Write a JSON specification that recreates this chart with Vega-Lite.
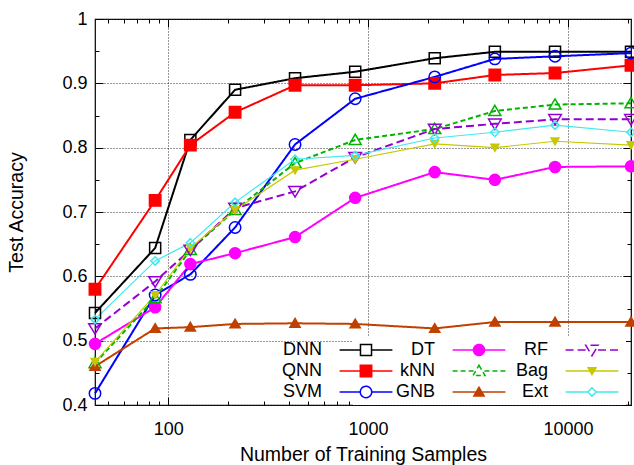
{
  "$schema": "https://vega.github.io/schema/vega-lite/v6.json",
  "width": 536,
  "height": 386,
  "autosize": {"type": "none"},
  "padding": {"left": 95, "top": 19, "right": 3, "bottom": 60},
  "background": "white",
  "config": {
    "view": {"stroke": "black", "strokeWidth": 1.2},
    "axis": {
      "labelFont": "Liberation Sans", "labelFontSize": 18, "labelColor": "black",
      "titleFont": "Liberation Sans", "titleFontSize": 19.5, "titleFontWeight": "normal", "titleColor": "black",
      "tickColor": "black", "tickWidth": 1, "domain": false,
      "gridColor": "#333333", "gridDash": [1, 2], "gridWidth": 1
    },
    "legend": {
      "labelFont": "Liberation Sans", "labelFontSize": 18, "labelColor": "black",
      "labelAlign": "right", "labelOffset": -53, "labelLimit": 200,
      "symbolSize": 144, "symbolStrokeWidth": 1.5, "symbolOpacity": 1,
      "fillColor": "white", "padding": 4, "rowPadding": 3, "columnPadding": -7
    }
  },
  "data": {"values": [
    {"n": 43, "series": "DNN", "acc": 0.543}, {"n": 86, "series": "DNN", "acc": 0.644}, {"n": 129, "series": "DNN", "acc": 0.812}, {"n": 216, "series": "DNN", "acc": 0.890}, {"n": 431, "series": "DNN", "acc": 0.908}, {"n": 862, "series": "DNN", "acc": 0.918}, {"n": 2155, "series": "DNN", "acc": 0.939}, {"n": 4310, "series": "DNN", "acc": 0.949}, {"n": 8620, "series": "DNN", "acc": 0.949}, {"n": 20688, "series": "DNN", "acc": 0.949},
    {"n": 43, "series": "QNN", "acc": 0.580}, {"n": 86, "series": "QNN", "acc": 0.718}, {"n": 129, "series": "QNN", "acc": 0.804}, {"n": 216, "series": "QNN", "acc": 0.855}, {"n": 431, "series": "QNN", "acc": 0.897}, {"n": 862, "series": "QNN", "acc": 0.897}, {"n": 2155, "series": "QNN", "acc": 0.900}, {"n": 4310, "series": "QNN", "acc": 0.913}, {"n": 8620, "series": "QNN", "acc": 0.916}, {"n": 20688, "series": "QNN", "acc": 0.928},
    {"n": 43, "series": "SVM", "acc": 0.418}, {"n": 86, "series": "SVM", "acc": 0.571}, {"n": 129, "series": "SVM", "acc": 0.603}, {"n": 216, "series": "SVM", "acc": 0.676}, {"n": 431, "series": "SVM", "acc": 0.805}, {"n": 862, "series": "SVM", "acc": 0.876}, {"n": 2155, "series": "SVM", "acc": 0.910}, {"n": 4310, "series": "SVM", "acc": 0.938}, {"n": 8620, "series": "SVM", "acc": 0.942}, {"n": 20688, "series": "SVM", "acc": 0.947},
    {"n": 43, "series": "DT", "acc": 0.495}, {"n": 86, "series": "DT", "acc": 0.552}, {"n": 129, "series": "DT", "acc": 0.619}, {"n": 216, "series": "DT", "acc": 0.636}, {"n": 431, "series": "DT", "acc": 0.661}, {"n": 862, "series": "DT", "acc": 0.722}, {"n": 2155, "series": "DT", "acc": 0.762}, {"n": 4310, "series": "DT", "acc": 0.750}, {"n": 8620, "series": "DT", "acc": 0.770}, {"n": 20688, "series": "DT", "acc": 0.771},
    {"n": 43, "series": "kNN", "acc": 0.465}, {"n": 86, "series": "kNN", "acc": 0.566}, {"n": 129, "series": "kNN", "acc": 0.641}, {"n": 216, "series": "kNN", "acc": 0.703}, {"n": 431, "series": "kNN", "acc": 0.776}, {"n": 862, "series": "kNN", "acc": 0.812}, {"n": 2155, "series": "kNN", "acc": 0.829}, {"n": 4310, "series": "kNN", "acc": 0.857}, {"n": 8620, "series": "kNN", "acc": 0.867}, {"n": 20688, "series": "kNN", "acc": 0.869},
    {"n": 43, "series": "GNB", "acc": 0.460}, {"n": 86, "series": "GNB", "acc": 0.519}, {"n": 129, "series": "GNB", "acc": 0.521}, {"n": 216, "series": "GNB", "acc": 0.526}, {"n": 431, "series": "GNB", "acc": 0.527}, {"n": 862, "series": "GNB", "acc": 0.526}, {"n": 2155, "series": "GNB", "acc": 0.519}, {"n": 4310, "series": "GNB", "acc": 0.529}, {"n": 8620, "series": "GNB", "acc": 0.529}, {"n": 20688, "series": "GNB", "acc": 0.529},
    {"n": 43, "series": "RF", "acc": 0.519}, {"n": 86, "series": "RF", "acc": 0.592}, {"n": 129, "series": "RF", "acc": 0.641}, {"n": 216, "series": "RF", "acc": 0.706}, {"n": 431, "series": "RF", "acc": 0.732}, {"n": 862, "series": "RF", "acc": 0.785}, {"n": 2155, "series": "RF", "acc": 0.829}, {"n": 4310, "series": "RF", "acc": 0.837}, {"n": 8620, "series": "RF", "acc": 0.844}, {"n": 20688, "series": "RF", "acc": 0.844},
    {"n": 43, "series": "Bag", "acc": 0.467}, {"n": 86, "series": "Bag", "acc": 0.571}, {"n": 129, "series": "Bag", "acc": 0.644}, {"n": 216, "series": "Bag", "acc": 0.703}, {"n": 431, "series": "Bag", "acc": 0.765}, {"n": 862, "series": "Bag", "acc": 0.782}, {"n": 2155, "series": "Bag", "acc": 0.806}, {"n": 4310, "series": "Bag", "acc": 0.800}, {"n": 8620, "series": "Bag", "acc": 0.810}, {"n": 20688, "series": "Bag", "acc": 0.804},
    {"n": 43, "series": "Ext", "acc": 0.533}, {"n": 86, "series": "Ext", "acc": 0.624}, {"n": 129, "series": "Ext", "acc": 0.652}, {"n": 216, "series": "Ext", "acc": 0.715}, {"n": 431, "series": "Ext", "acc": 0.782}, {"n": 862, "series": "Ext", "acc": 0.788}, {"n": 2155, "series": "Ext", "acc": 0.815}, {"n": 4310, "series": "Ext", "acc": 0.824}, {"n": 8620, "series": "Ext", "acc": 0.835}, {"n": 20688, "series": "Ext", "acc": 0.824}
  ]},
  "resolve": {
    "scale": {"stroke": "independent", "fill": "independent", "shape": "independent", "strokeDash": "independent"},
    "axis": {"x": "independent", "y": "independent"}
  },
  "layer": [
    {
      "transform": [{"filter": "datum.series != 'Bag' && datum.series != 'Ext'"}],
      "mark": {"type": "line", "strokeWidth": 2},
      "encoding": {
        "x": {"field": "n", "type": "quantitative",
          "scale": {"type": "log", "domain": [43, 20688], "nice": false},
          "title": "Number of Training Samples",
          "axis": {"orient": "bottom",
            "values": [50,60,70,80,90,100,200,300,400,500,600,700,800,900,1000,2000,3000,4000,5000,6000,7000,8000,9000,10000,20000],
            "labelExpr": "abs(log(datum.value)/LN10 - round(log(datum.value)/LN10)) < 0.001 ? format(datum.value, 'd') : ''",
            "tickSize": {"condition": {"test": "abs(log(datum.value)/LN10 - round(log(datum.value)/LN10)) < 0.001", "value": -8}, "value": -4},
            "grid": true,
            "gridOpacity": {"condition": {"test": "abs(log(datum.value)/LN10 - round(log(datum.value)/LN10)) < 0.001", "value": 1}, "value": 0},
            "labelOverlap": false, "labelFlush": false, "labelPadding": 23, "titlePadding": 3}},
        "y": {"field": "acc", "type": "quantitative",
          "scale": {"domain": [0.4, 1], "nice": false, "zero": false},
          "title": "Test Accuracy",
          "axis": {"orient": "left",
            "values": [0.4,0.45,0.5,0.55,0.6,0.65,0.7,0.75,0.8,0.85,0.9,0.95,1],
            "labelExpr": "abs(round(datum.value*10) - datum.value*10) < 0.001 ? toString(datum.value) : ''",
            "tickSize": {"condition": {"test": "abs(round(datum.value*10) - datum.value*10) < 0.001", "value": -8}, "value": -4},
            "grid": true,
            "gridOpacity": {"condition": {"test": "abs(round(datum.value*10) - datum.value*10) < 0.001", "value": 1}, "value": 0},
            "labelOverlap": false, "labelFlush": false, "labelPadding": 16, "titlePadding": 35}},
        "stroke": {"field": "series", "type": "nominal", "legend": null,
          "scale": {"domain": ["DNN","QNN","SVM","DT","kNN","GNB","RF","Bag","Ext"],
                    "range": ["#000000","#ff0000","#0000ff","#ff00ff","#00b400","#c04000","#9400d3","#c8c800","#40e8f0"]}},
        "strokeDash": {"field": "series", "type": "nominal", "legend": null,
          "scale": {"domain": ["DNN","QNN","SVM","DT","kNN","GNB","RF","Bag","Ext"],
                    "range": [[1,0],[1,0],[1,0],[1,0],[5,3],[1,0],[8,4],[1,0],[1,0]]}}
      }
    },
    {
      "transform": [{"filter": "datum.series == 'Bag' || datum.series == 'Ext'"}],
      "mark": {"type": "line", "strokeWidth": 1.2},
      "encoding": {
        "x": {"field": "n", "type": "quantitative", "scale": {"type": "log", "domain": [43, 20688], "nice": false}, "axis": null},
        "y": {"field": "acc", "type": "quantitative", "scale": {"domain": [0.4, 1], "nice": false, "zero": false}, "axis": null},
        "stroke": {"field": "series", "type": "nominal", "legend": null,
          "scale": {"domain": ["DNN","QNN","SVM","DT","kNN","GNB","RF","Bag","Ext"],
                    "range": ["#000000","#ff0000","#0000ff","#ff00ff","#00b400","#c04000","#9400d3","#c8c800","#40e8f0"]}}
      }
    },
    {
      "mark": {"type": "point", "opacity": 1, "strokeWidth": 1.5, "size": 144},
      "encoding": {
        "x": {"field": "n", "type": "quantitative", "scale": {"type": "log", "domain": [43, 20688], "nice": false},
          "axis": {"orient": "top", "title": null, "labels": false, "grid": false,
            "values": [50,60,70,80,90,100,200,300,400,500,600,700,800,900,1000,2000,3000,4000,5000,6000,7000,8000,9000,10000,20000],
            "tickSize": {"condition": {"test": "abs(log(datum.value)/LN10 - round(log(datum.value)/LN10)) < 0.001", "value": -8}, "value": -4}}},
        "y": {"field": "acc", "type": "quantitative", "scale": {"domain": [0.4, 1], "nice": false, "zero": false},
          "axis": {"orient": "right", "title": null, "labels": false, "grid": false,
            "values": [0.4,0.45,0.5,0.55,0.6,0.65,0.7,0.75,0.8,0.85,0.9,0.95,1],
            "tickSize": {"condition": {"test": "abs(round(datum.value*10) - datum.value*10) < 0.001", "value": -8}, "value": -4}}},
        "stroke": {"field": "series", "type": "nominal", "legend": null,
          "scale": {"domain": ["DNN","QNN","SVM","DT","kNN","GNB","RF","Bag","Ext"],
                    "range": ["#000000","#ff0000","#0000ff","#ff00ff","#00b400","#c04000","#9400d3","#c8c800","#40e8f0"]}},
        "fill": {"field": "series", "type": "nominal", "legend": null,
          "scale": {"domain": ["DNN","QNN","SVM","DT","kNN","GNB","RF","Bag","Ext"],
                    "range": ["transparent","#ff0000","transparent","#ff00ff","transparent","#c04000","transparent","#c8c800","transparent"]}},
        "shape": {"field": "series", "type": "nominal", "legend": null,
          "scale": {"domain": ["DNN","QNN","SVM","DT","kNN","GNB","RF","Bag","Ext"],
                    "range": [
                      "M-0.92,-0.92H0.92V0.92H-0.92Z",
                      "M-0.95,-0.95H0.95V0.95H-0.95Z",
                      "M-0.95,0A0.95,0.95,0,1,0,0.95,0A0.95,0.95,0,1,0,-0.95,0Z",
                      "M-0.92,0A0.92,0.92,0,1,0,0.92,0A0.92,0.92,0,1,0,-0.92,0Z",
                      "M0,-0.95L1,0.75L-1,0.75Z",
                      "M0,-0.8L0.85,0.65L-0.85,0.65Z",
                      "M0,0.95L1.05,-0.8L-1.05,-0.8Z",
                      "M0,0.6L0.65,-0.55L-0.65,-0.55Z",
                      "M0,-0.7L0.7,0L0,0.7L-0.7,0Z"]}}
      }
    },
    {
      "transform": [{"filter": "false"}],
      "mark": {"type": "point", "opacity": 1, "strokeWidth": 1.5},
      "encoding": {
        "stroke": {"field": "series", "type": "nominal",
          "legend": {"title": null, "orient": "none", "legendX": 258, "legendY": 318, "columns": 3},
          "scale": {"domain": ["DNN","QNN","SVM","DT","kNN","GNB","RF","Bag","Ext"],
                    "range": ["#000000","#ff0000","#0000ff","#ff00ff","#00b400","#c04000","#9400d3","#c8c800","#40e8f0"]}},
        "fill": {"field": "series", "type": "nominal",
          "legend": {"title": null, "orient": "none", "legendX": 258, "legendY": 318, "columns": 3},
          "scale": {"domain": ["DNN","QNN","SVM","DT","kNN","GNB","RF","Bag","Ext"],
                    "range": ["transparent","#ff0000","transparent","#ff00ff","transparent","#c04000","transparent","#c8c800","transparent"]}},
        "strokeDash": {"field": "series", "type": "nominal",
          "legend": {"title": null, "orient": "none", "legendX": 258, "legendY": 318, "columns": 3},
          "scale": {"domain": ["DNN","QNN","SVM","DT","kNN","GNB","RF","Bag","Ext"],
                    "range": [[1,0],[1,0],[1,0],[1,0],[5,3],[1,0],[8,4],[1,0],[1,0]]}},
        "shape": {"field": "series", "type": "nominal",
          "legend": {"title": null, "orient": "none", "legendX": 258, "legendY": 318, "columns": 3},
          "scale": {"domain": ["DNN","QNN","SVM","DT","kNN","GNB","RF","Bag","Ext"],
                    "range": [
                      "M-14.5,0M-4.4,0H-0.92M0.92,0H4.4M-0.92,-0.92H0.92V0.92H-0.92Z",
                      "M-14.5,0M-4.4,0H4.4M-0.95,-0.95H0.95V0.95H-0.95Z",
                      "M-14.5,0M-4.4,0H-0.95M0.95,0H4.4M-0.95,0A0.95,0.95,0,1,0,0.95,0A0.95,0.95,0,1,0,-0.95,0Z",
                      "M-14.5,0M-4.4,0H4.4M-0.92,0A0.92,0.92,0,1,0,0.92,0A0.92,0.92,0,1,0,-0.92,0Z",
                      "M-14.5,0M-4.4,0H-0.9M0.9,0H4.4M0,-0.95L1,0.75L-1,0.75Z",
                      "M-14.5,0M-4.4,0H4.4M0,-0.8L0.85,0.65L-0.85,0.65Z",
                      "M-14.5,0M-4.4,0H-1M1,0H4.4M0,0.95L1.05,-0.8L-1.05,-0.8Z",
                      "M-14.5,0M-4.4,0H4.4M0,0.6L0.65,-0.55L-0.65,-0.55Z",
                      "M-14.5,0M-4.4,0H-0.7M0.7,0H4.4M0,-0.7L0.7,0L0,0.7L-0.7,0Z"]}}
      }
    }
  ]
}
